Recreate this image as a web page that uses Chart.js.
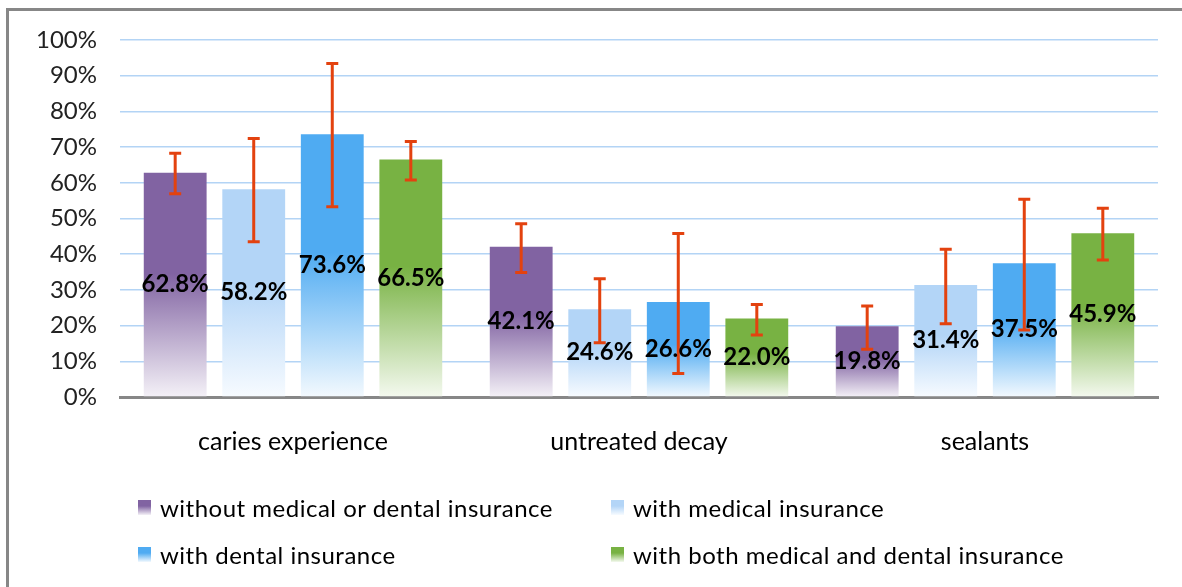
<!DOCTYPE html>
<html>
<head>
<meta charset="utf-8">
<script src="https://cdn.jsdelivr.net/npm/chart.js@4.4.0/dist/chart.umd.min.js"></script>
<style>
  html, body { margin: 0; padding: 0; background: #fff; overflow: hidden; }
  #wrap { position: relative; width: 1182px; height: 587px; }
  #frame { position: absolute; left: 6px; top: 8px; width: 1300px; height: 700px;
           border-left: 3px solid #878787; border-top: 3px solid #878787; }
  #myChart { position: absolute; left: 0; top: 0; }
  .leg { position: absolute; font: 24px Lato, sans-serif; letter-spacing: 0.5px; color: #000; white-space: nowrap; }
  .leg i { position: absolute; left: 0; top: -8px; width: 13px; height: 15px; }
  .leg span { position: absolute; left: 22px; top: -15px; line-height: 30px; }
</style>
</head>
<body>
<div id="wrap">
  <div id="frame"></div>
  <canvas id="myChart" width="1182" height="587"></canvas>
  <div id="legend"></div>
</div>
<script>
const categories = ['caries experience', 'untreated decay', 'sealants'];
const seriesNames = [
  'without medical or dental insurance',
  'with medical insurance',
  'with dental insurance',
  'with both medical and dental insurance'
];
const withoutIns = [62.8, 42.1, 19.8];
const medicalIns = [58.2, 24.6, 31.4];
const dentalIns = [73.6, 26.6, 37.5];
const bothIns = [66.5, 22.0, 45.9];

// confidence limits (low / high)
const withoutLow = [56.9, 34.9, 13.4];
const withoutHigh = [68.3, 48.5, 25.5];
const medicalLow = [43.5, 15.2, 20.5];
const medicalHigh = [72.4, 33.1, 41.4];
const dentalLow = [53.3, 6.6, 18.8];
const dentalHigh = [93.4, 45.8, 55.4];
const bothLow = [60.8, 17.4, 38.4];
const bothHigh = [71.6, 25.9, 52.9];

const yTicks = [0, 10, 20, 30, 40, 50, 60, 70, 80, 90, 100];

const colors = ['#8163A2', '#B3D5F7', '#4FABF2', '#78B243'];
const fades = ['#F4F1F7', '#F7FBFF', '#F3F9FE', '#F4F9EF'];

function barFill(i) {
  return (c) => {
    const chart = c.chart;
    if (!chart.chartArea || c.type !== 'data') return colors[i];
    const y = chart.scales.y;
    const top = y.getPixelForValue(c.raw);
    const base = y.getPixelForValue(0);
    const g = chart.ctx.createLinearGradient(0, top, 0, base);
    g.addColorStop(0, colors[i]);
    g.addColorStop(0.45, colors[i]);
    g.addColorStop(1, fades[i]);
    return g;
  };
}

const values = [withoutIns, medicalIns, dentalIns, bothIns];
const lows = [withoutLow, medicalLow, dentalLow, bothLow];
const highs = [withoutHigh, medicalHigh, dentalHigh, bothHigh];

const errorBars = {
  id: 'errorBars',
  afterDatasetsDraw(chart) {
    const c = chart.ctx;
    const y = chart.scales.y;
    c.save();
    c.strokeStyle = '#E3420F';
    c.lineWidth = 3;
    chart.data.datasets.forEach((ds, i) => {
      chart.getDatasetMeta(i).data.forEach((bar, j) => {
        const top = y.getPixelForValue(highs[i][j]);
        const bot = y.getPixelForValue(lows[i][j]);
        c.beginPath();
        c.moveTo(bar.x, top); c.lineTo(bar.x, bot);
        c.moveTo(bar.x - 6, top); c.lineTo(bar.x + 6, top);
        c.moveTo(bar.x - 6, bot); c.lineTo(bar.x + 6, bot);
        c.stroke();
      });
    });
    c.restore();
  }
};

const barLabels = {
  id: 'barLabels',
  afterDraw(chart) {
    const c = chart.ctx;
    c.save();
    c.font = 'bold 24px Lato, sans-serif';
    c.fillStyle = '#000';
    c.textAlign = 'center';
    c.textBaseline = 'middle';
    chart.data.datasets.forEach((ds, i) => {
      chart.getDatasetMeta(i).data.forEach((bar, j) => {
        c.fillText(ds.data[j].toFixed(1) + '%', bar.x, (bar.y + bar.base) / 2);
      });
    });
    c.restore();
  }
};

const ctx = document.getElementById('myChart');

new Chart(ctx, {
  type: 'bar',
  data: {
    labels: categories,
    datasets: values.map((v, i) => ({
      label: seriesNames[i],
      data: v,
      backgroundColor: barFill(i),
      borderWidth: 0,
      categoryPercentage: 0.908,
      barPercentage: 0.8
    }))
  },
  options: {
    responsive: false,
    animation: false,
    layout: { padding: { left: 0, right: 24, top: 40, bottom: 120 } },
    plugins: { legend: { display: false }, tooltip: { enabled: false } },
    scales: {
      x: {
        grid: { display: false },
        border: { color: '#878787', width: 3 },
        ticks: { color: '#000', font: { family: 'Lato', size: 25 }, padding: 22 },
        afterFit: (s) => { s.height = 70; }
      },
      y: {
        min: 0,
        max: 100,
        afterBuildTicks: (s) => { s.ticks = yTicks.map(v => ({ value: v })); },
        grid: { color: '#B3D4F5', lineWidth: 1.5, drawTicks: false },
        border: { display: false },
        ticks: { color: '#222', font: { family: 'Lato', size: 24 }, padding: 23,
                 callback: (v) => v + '%' },
        afterFit: (s) => { s.width = 120; }
      }
    }
  },
  plugins: [errorBars, barLabels]
});

// legend in two columns
const legPos = [[138, 508], [611, 508], [138, 555], [611, 555]];
const legend = document.getElementById('legend');
seriesNames.forEach((name, i) => {
  const d = document.createElement('div');
  d.className = 'leg';
  d.style.left = legPos[i][0] + 'px';
  d.style.top = legPos[i][1] + 'px';
  d.innerHTML = '<i style="background:linear-gradient(' + colors[i] + ' 40%, ' + fades[i] + ')"></i><span>' + name + '</span>';
  legend.appendChild(d);
});
</script>
</body>
</html>
